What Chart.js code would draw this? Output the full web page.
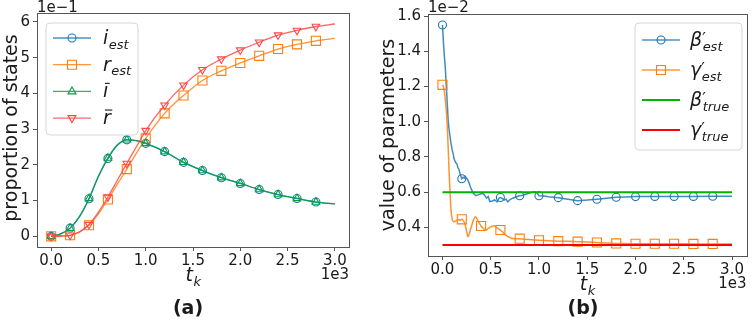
<!DOCTYPE html>
<html>
<head>
<meta charset="utf-8">
<script src="https://cdn.jsdelivr.net/npm/chart.js@4.4.1/dist/chart.umd.min.js"></script>
<style>
  html, body { margin: 0; padding: 0; background: #fff; }
  #wrap { position: relative; width: 754px; height: 322px; }
  .panel { position: absolute; top: 0; width: 377px; height: 322px; }
</style>
</head>
<body>
<div id="wrap">
  <div class="panel" style="left:0"><canvas id="chartA" width="377" height="322"></canvas></div>
  <div class="panel" style="left:377px"><canvas id="chartB" width="377" height="322"></canvas></div>
</div>
<script>
// ---------- panel (a): proportion of states ----------
const timesA = [0, 100, 200, 300, 400, 500, 600, 700, 800, 900, 1000, 1200, 1400, 1600, 1800, 2000, 2200, 2400, 2600, 2800, 3000];
const iEst = [0.000, 0.007, 0.023, 0.055, 0.105, 0.168, 0.218, 0.255, 0.270, 0.268, 0.260, 0.237, 0.207, 0.184, 0.164, 0.148, 0.131, 0.117, 0.106, 0.096, 0.091];
const rEst = [0.000, 0.001, 0.003, 0.012, 0.031, 0.063, 0.103, 0.146, 0.188, 0.232, 0.274, 0.344, 0.394, 0.436, 0.463, 0.485, 0.505, 0.524, 0.537, 0.547, 0.554];
const iBar = [0.000, 0.007, 0.023, 0.056, 0.106, 0.168, 0.219, 0.256, 0.270, 0.268, 0.260, 0.237, 0.207, 0.184, 0.164, 0.148, 0.131, 0.117, 0.106, 0.096, 0.091];
const rBar = [0.000, 0.001, 0.003, 0.013, 0.033, 0.068, 0.110, 0.157, 0.204, 0.250, 0.296, 0.367, 0.423, 0.466, 0.496, 0.521, 0.543, 0.563, 0.576, 0.587, 0.594];

// ---------- panel (b): parameters, values in units of 1e-2 ----------
const timesBeta = [0, 10, 20, 30, 40, 50, 60, 70, 85, 100, 110, 120, 135, 150, 160, 170, 185, 200, 215, 225,
  235, 250, 260, 270, 290, 305, 320, 345, 370, 395, 420, 440, 456, 475, 490, 515, 541, 565, 585, 600,
  615, 643, 660, 677, 700, 728, 760, 800, 830, 870, 910, 950, 975, 1000, 1050, 1100, 1200, 1300, 1400, 1500,
  1600, 1700, 1800, 1900, 2000, 2200, 2400, 2600, 2800, 3000];
const betaEst = [1.55, 1.45, 1.37, 1.30, 1.20, 1.10, 1.00, 0.95, 0.89, 0.84, 0.82, 0.79, 0.77, 0.76, 0.74, 0.73, 0.70, 0.676, 0.685, 0.68,
  0.69, 0.68, 0.672, 0.66, 0.63, 0.61, 0.594, 0.58, 0.585, 0.59, 0.594, 0.58, 0.566, 0.575, 0.547, 0.55, 0.556, 0.545, 0.565, 0.57,
  0.565, 0.556, 0.56, 0.545, 0.558, 0.566, 0.573, 0.58, 0.583, 0.59, 0.597, 0.603, 0.598, 0.58, 0.578, 0.574, 0.569, 0.56, 0.552, 0.555,
  0.56, 0.566, 0.571, 0.573, 0.575, 0.576, 0.576, 0.576, 0.577, 0.577];
const timesGamma = [0, 10, 20, 30, 40, 50, 60, 70, 80, 90, 100, 116, 135, 150, 170, 185, 200, 215, 231, 245,
  265, 280, 299, 320, 343, 365, 384, 400, 420, 452, 475, 503, 537, 565, 600, 630, 655, 690, 723, 760,
  800, 850, 900, 950, 1000, 1100, 1200, 1300, 1400, 1500, 1600, 1700, 1800, 1900, 2000, 2200, 2400, 2600, 2800, 3000];
const gammaEst = [1.21, 1.20, 1.17, 1.12, 1.06, 0.97, 0.84, 0.70, 0.58, 0.49, 0.45, 0.432, 0.436, 0.44, 0.445, 0.44, 0.446, 0.44, 0.423, 0.39,
  0.347, 0.37, 0.404, 0.44, 0.46, 0.44, 0.423, 0.408, 0.395, 0.385, 0.395, 0.404, 0.409, 0.397, 0.385, 0.37, 0.356, 0.345, 0.337, 0.335,
  0.336, 0.333, 0.331, 0.329, 0.327, 0.324, 0.322, 0.321, 0.319, 0.317, 0.314, 0.311, 0.309, 0.308, 0.307, 0.307, 0.307, 0.306, 0.306, 0.305];
const timesTrue = [0, 3000];
const betaTrue = [0.6, 0.6];
const gammaTrue = [0.3, 0.3];

// markers every 200 steps
const markerTimes = [0, 200, 400, 600, 800, 1000, 1200, 1400, 1600, 1800, 2000, 2200, 2400, 2600, 2800];

// ticks
const xTicks = [0, 500, 1000, 1500, 2000, 2500, 3000];
const xTickLabels = ["0.0", "0.5", "1.0", "1.5", "2.0", "2.5", "3.0"];
const yTicksA = [0, 0.1, 0.2, 0.3, 0.4, 0.5, 0.6];
const yTickLabelsA = ["0", "1", "2", "3", "4", "5", "6"];
const yTicksB = [0.4, 0.6, 0.8, 1.0, 1.2, 1.4, 1.6];
const yTickLabelsB = ["0.4", "0.6", "0.8", "1.0", "1.2", "1.4", "1.6"];

const FONT = '"DejaVu Sans", sans-serif';
const INK = "#1a1a1a";
const FRAME = "#555";

const C = {
  blue: "#1f77b4", orange: "#ff7f0e", green: "#00a048", red: "#ff4646",
  gTrue: "#00b400", rTrue: "#ff0000"
};

const pts = (xs, ys) => xs.map((x, i) => ({ x: x, y: ys[i] }));
const mk = (r) => (ctx) => (ctx.raw && markerTimes.includes(ctx.raw.x) ? r : 0);

function fade(hex, a) {
  const n = parseInt(hex.slice(1), 16);
  return `rgba(${n >> 16},${(n >> 8) & 255},${n & 255},${a})`;
}

function series(xs, ys, color, style, r, extra) {
  return Object.assign({
    data: pts(xs, ys),
    borderColor: fade(color, 0.85),
    borderWidth: 1.3,
    pointStyle: style,
    pointRadius: mk(r),
    pointHoverRadius: 0,
    pointBorderColor: color,
    pointBackgroundColor: "rgba(0,0,0,0)",
    pointBorderWidth: 1.1,
    fill: false
  }, extra || {});
}

// draw an italic math label such as  i_est, beta'_est, bar r
function mathLabel(ctx, x, y, m, size) {
  const ss = Math.round(size * 0.7);
  ctx.fillStyle = INK;
  ctx.textAlign = "left";
  ctx.textBaseline = "alphabetic";
  ctx.font = `italic ${size}px ${FONT}`;
  const base = m.bar ? m.base.replace("i", "\u0131") : m.base;
  ctx.fillText(base, x, y);
  const w = ctx.measureText(base).width;
  let end = x + w;
  if (m.bar) {
    ctx.strokeStyle = INK;
    ctx.lineWidth = 1.1;
    const by = y - size * 0.74;
    ctx.beginPath();
    ctx.moveTo(x + size * 0.1, by);
    ctx.lineTo(x + w + size * 0.08, by);
    ctx.stroke();
  }
  if (m.prime) {
    ctx.font = `${Math.round(size * 0.85)}px ${FONT}`;
    ctx.fillText("\u2032", x + w, y - size * 0.12);
    end = Math.max(end, x + w + ctx.measureText("\u2032").width);
  }
  if (m.sub) {
    ctx.font = `italic ${ss}px ${FONT}`;
    ctx.fillText(m.sub, x + w + 0.5, y + size * 0.24);
    end = Math.max(end, x + w + 0.5 + ctx.measureText(m.sub).width);
  }
  return end - x;
}

function drawMarker(ctx, style, x, y, color) {
  ctx.strokeStyle = color;
  ctx.lineWidth = 1.1;
  ctx.beginPath();
  if (style === "circle") {
    ctx.arc(x, y, 4, 0, Math.PI * 2);
  } else if (style === "rect") {
    ctx.rect(x - 4.5, y - 4.5, 9, 9);
  } else if (style === "up") {
    ctx.moveTo(x, y - 4.5); ctx.lineTo(x + 4, y + 2.5); ctx.lineTo(x - 4, y + 2.5); ctx.closePath();
  } else if (style === "down") {
    ctx.moveTo(x, y + 4.5); ctx.lineTo(x + 4, y - 2.5); ctx.lineTo(x - 4, y - 2.5); ctx.closePath();
  }
  ctx.stroke();
}

function roundRect(ctx, x, y, w, h, r) {
  ctx.beginPath();
  ctx.moveTo(x + r, y);
  ctx.arcTo(x + w, y, x + w, y + h, r);
  ctx.arcTo(x + w, y + h, x, y + h, r);
  ctx.arcTo(x, y + h, x, y, r);
  ctx.arcTo(x, y, x + w, y, r);
  ctx.closePath();
}

// frame, titles, offset texts, legend, panel letter
function decorations(d) {
  return {
    id: "deco" + d.letter,
    afterDraw(chart) {
      const ctx = chart.ctx;
      const a = chart.chartArea;
      ctx.save();

      ctx.strokeStyle = FRAME;
      ctx.lineWidth = 1;
      const L = Math.round(a.left) + 0.5, T = Math.round(a.top) + 0.5;
      ctx.strokeRect(L, T, Math.round(a.right) - Math.round(a.left), Math.round(a.bottom) - Math.round(a.top));

      // y title
      ctx.fillStyle = INK;
      ctx.font = `19px ${FONT}`;
      ctx.textAlign = "center";
      ctx.textBaseline = "middle";
      ctx.save();
      ctx.translate(12.5, d.yTitleY);
      ctx.rotate(-Math.PI / 2);
      ctx.fillText(d.yTitle, 0, 0);
      ctx.restore();

      // x title t_k
      ctx.font = `italic 19px ${FONT}`;
      const tw = ctx.measureText("t").width;
      ctx.font = `italic 13px ${FONT}`;
      const kw = ctx.measureText("k").width;
      mathLabel(ctx, (a.left + a.right) / 2 - (tw + kw) / 2, d.xTitleBase, { base: "t", sub: "k" }, 19);

      // offset texts
      ctx.font = `15px ${FONT}`;
      ctx.fillStyle = INK;
      ctx.textBaseline = "alphabetic";
      ctx.textAlign = "left";
      ctx.fillText(d.yOffset, a.left, 12);
      ctx.textAlign = "right";
      ctx.fillText("1e3", a.right, d.xOffsetBase);

      // panel letter
      ctx.font = `bold 19px ${FONT}`;
      ctx.textAlign = "center";
      ctx.fillText("(" + d.letter + ")", d.letterX, 314);

      // legend
      const g = d.legend;
      roundRect(ctx, g.x, g.y, g.w, g.h, 4);
      ctx.fillStyle = "rgba(255,255,255,0.85)";
      ctx.fill();
      ctx.strokeStyle = "#d6d6d6";
      ctx.lineWidth = 1;
      ctx.stroke();
      g.items.forEach((it, k) => {
        const ry = g.y + g.first + k * g.step;
        ctx.strokeStyle = it.alpha ? fade(it.color, it.alpha) : it.color;
        ctx.lineWidth = it.lw;
        ctx.beginPath();
        ctx.moveTo(g.x + 7, ry);
        ctx.lineTo(g.x + 45, ry);
        ctx.stroke();
        if (it.marker) drawMarker(ctx, it.marker, g.x + 26, ry, it.color);
        mathLabel(ctx, g.x + g.textX, ry + 6, it.label, 19);
      });
      ctx.restore();
    }
  };
}

function axes(yMin, yMax, yTicks, yLabels, yWidth, xHeight) {
  const tickFont = { family: FONT, size: 15 };
  return {
    x: {
      type: "linear", min: -150, max: 3150,
      afterBuildTicks: (s) => { s.ticks = xTicks.map((v) => ({ value: v })); },
      afterFit: (s) => { s.height = xHeight; },
      ticks: { autoSkip: false, maxRotation: 0, padding: 1, color: INK, font: tickFont,
        callback: (v, i) => xTickLabels[i] },
      grid: { display: true, drawOnChartArea: false, drawTicks: true, tickLength: 4, color: FRAME },
      border: { display: false }
    },
    y: {
      type: "linear", min: yMin, max: yMax,
      afterBuildTicks: (s) => { s.ticks = yTicks.map((v) => ({ value: v })); },
      afterFit: (s) => { s.width = yWidth; },
      ticks: { autoSkip: false, padding: 3, color: INK, font: tickFont,
        callback: (v, i) => yLabels[i] },
      grid: { display: true, drawOnChartArea: false, drawTicks: true, tickLength: 4, color: FRAME },
      border: { display: false }
    }
  };
}

const baseOptions = (padding, scales) => ({
  responsive: false,
  animation: false,
  devicePixelRatio: 1,
  layout: { padding: padding },
  events: [],
  plugins: { legend: { display: false }, tooltip: { enabled: false } },
  scales: scales
});

// ----- chart (a) -----
new Chart(document.getElementById("chartA"), {
  type: "line",
  data: {
    datasets: [
      series(timesA, iEst, C.blue, "circle", 4, { cubicInterpolationMode: "monotone", order: 4 }),
      series(timesA, rEst, C.orange, "rect", 6.4, { cubicInterpolationMode: "monotone", order: 3 }),
      series(timesA, iBar, C.green, "triangle", 4.4, { cubicInterpolationMode: "monotone", order: 2 }),
      series(timesA, rBar, C.red, "triangle", 4.4, { cubicInterpolationMode: "monotone", order: 1, pointRotation: 180 })
    ]
  },
  options: baseOptions({ left: 0, top: 13, right: 28, bottom: 0 },
    axes(-0.0298, 0.6248, yTicksA, yTickLabelsA, 37, 75)),
  plugins: [decorations({
    letter: "a", letterX: 188, yTitle: "proportion of states", yTitleY: 128,
    xTitleBase: 281, yOffset: "1e\u22121", xOffsetBase: 279,
    legend: {
      x: 46, y: 23, w: 92, h: 112, first: 15, step: 26.7, textX: 57,
      items: [
        { color: C.blue, alpha: 0.8, lw: 1.3, marker: "circle", label: { base: "i", sub: "est" } },
        { color: C.orange, alpha: 0.8, lw: 1.3, marker: "rect", label: { base: "r", sub: "est" } },
        { color: C.green, alpha: 0.8, lw: 1.3, marker: "up", label: { base: "i", bar: true } },
        { color: C.red, alpha: 0.8, lw: 1.3, marker: "down", label: { base: "r", bar: true } }
      ]
    }
  })]
});

// ----- chart (b) -----
new Chart(document.getElementById("chartB"), {
  type: "line",
  data: {
    datasets: [
      series(timesBeta, betaEst, C.blue, "circle", 4, { tension: 0, order: 4, borderWidth: 1.5 }),
      series(timesGamma, gammaEst, C.orange, "rect", 6.4, { cubicInterpolationMode: "monotone", order: 3, borderWidth: 1.5 }),
      { data: pts(timesTrue, betaTrue), borderColor: C.gTrue, borderWidth: 2, pointRadius: 0, order: 2 },
      { data: pts(timesTrue, gammaTrue), borderColor: C.rTrue, borderWidth: 2, pointRadius: 0, order: 1 }
    ]
  },
  options: baseOptions({ left: 0, top: 14, right: 6, bottom: 0 },
    axes(0.2375, 1.6125, yTicksB, yTickLabelsB, 51, 66)),
  plugins: [decorations({
    letter: "b", letterX: 206, yTitle: "value of parameters", yTitleY: 135,
    xTitleBase: 290, yOffset: "1e\u22122", xOffsetBase: 288,
    legend: {
      x: 258, y: 23, w: 107, h: 127, first: 17, step: 30, textX: 55,
      items: [
        { color: C.blue, alpha: 0.8, lw: 1.3, marker: "circle", label: { base: "\u03b2", prime: true, sub: "est" } },
        { color: C.orange, alpha: 0.8, lw: 1.3, marker: "rect", label: { base: "\u03b3", prime: true, sub: "est" } },
        { color: C.gTrue, lw: 2, label: { base: "\u03b2", prime: true, sub: "true" } },
        { color: C.rTrue, lw: 2, label: { base: "\u03b3", prime: true, sub: "true" } }
      ]
    }
  })]
});
</script>
</body>
</html>
